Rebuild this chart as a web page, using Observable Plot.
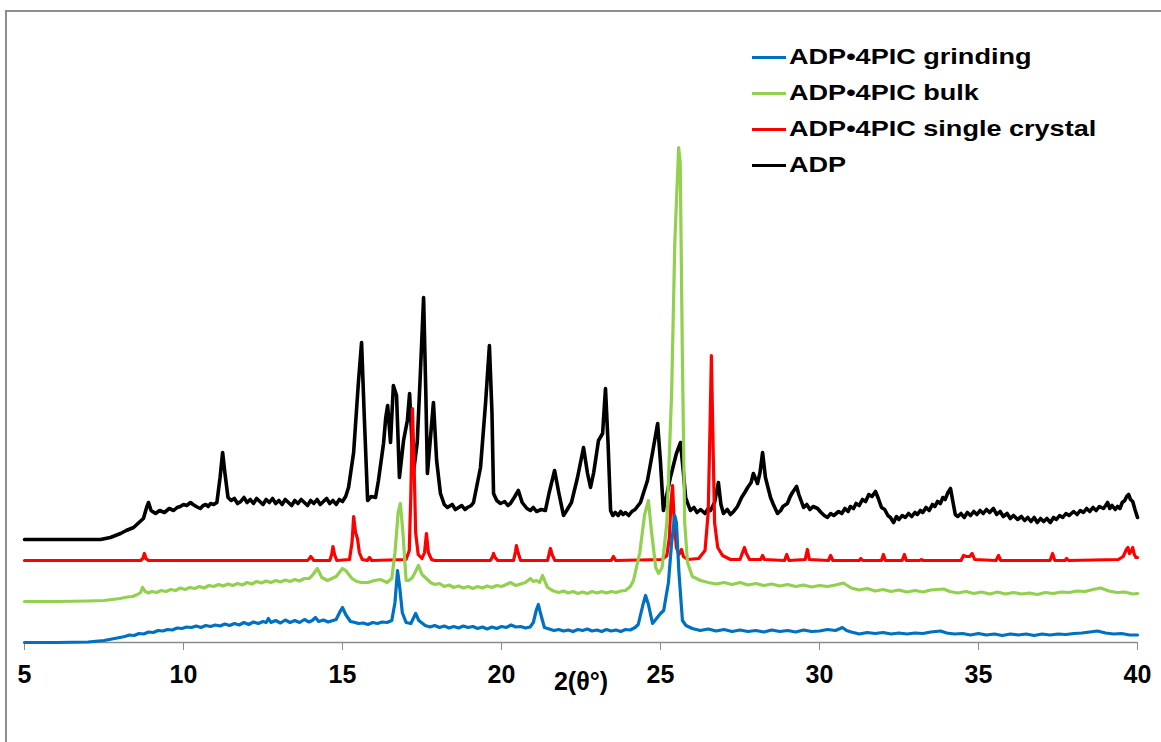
<!DOCTYPE html>
<html><head><meta charset="utf-8">
<script src="https://cdn.jsdelivr.net/npm/d3@7"></script>
<script src="https://cdn.jsdelivr.net/npm/@observablehq/plot@0.6"></script>
<style>
body{margin:0;background:#fff;overflow:hidden;font-family:"Liberation Sans",Arial,sans-serif;}
#wrap{position:relative;width:1161px;height:742px;overflow:hidden;background:#fff;}
#frame{position:absolute;left:5px;top:10px;width:2000px;height:2000px;border-top:2px solid #8e8e8e;border-left:2px solid #8e8e8e;}
#chart{position:absolute;left:0;top:0;}
#legend{position:absolute;left:752px;top:39px;}
.row{height:36px;display:flex;align-items:center;}
.sw{width:34px;height:3px;margin-right:3px;flex:none;}
.lab{font-weight:bold;font-size:22px;color:#000;transform:scaleX(1.23);transform-origin:left center;white-space:nowrap;}
</style></head>
<body>
<div id="wrap"><div id="frame"></div><div id="chart"></div><div id="legend"></div></div>
<script>
// Series names (legend order)
const seriesNames = ["ADP•4PIC grinding", "ADP•4PIC bulk", "ADP•4PIC single crystal", "ADP"];
const xTicks = [5, 10, 15, 20, 25, 30, 35, 40];
const xLabel = "2(θ°)";

// [2θ, intensity (a.u., stacked offsets as plotted)]
const grinding = [[5,0],[6,0],[7,0.5],[7.5,2],[8.0,5],[8.15,6],[8.3,7.5],[8.45,7],[8.6,9],[8.75,8.5],[8.9,10.5],[9.05,10],[9.2,12],[9.35,11.5],[9.5,13],[9.65,12.5],[9.8,14.5],[9.95,14],[10.1,15.5],[10.25,15],[10.4,16.5],[10.55,15],[10.7,17],[10.85,16],[11.0,17.5],[11.15,16.5],[11.3,18.5],[11.45,17],[11.6,19],[11.75,17.5],[11.9,20],[12.05,18],[12.2,20.5],[12.35,19],[12.5,21],[12.6,20],[12.67,24],[12.75,20],[12.9,22],[13.05,19.5],[13.2,22.5],[13.35,20],[13.5,22],[13.65,20],[13.8,23],[13.95,20.5],[14.05,22],[14.15,25],[14.25,21],[14.4,22.5],[14.55,20.5],[14.7,22],[14.8,23],[14.94,32],[15.0,35],[15.1,28],[15.25,21],[15.4,20],[15.5,19],[15.65,19.5],[15.8,18],[15.95,20],[16.1,19],[16.25,20.5],[16.4,20],[16.55,22],[16.65,40],[16.73,72],[16.8,55],[16.88,30],[17.0,20],[17.15,19],[17.3,29],[17.4,22],[17.6,17],[17.75,15.5],[17.9,17],[18.05,15],[18.2,16.5],[18.35,14.5],[18.5,16],[18.65,14.5],[18.8,16.5],[18.95,15],[19.1,16],[19.25,14],[19.4,15.5],[19.55,13.5],[19.7,15.5],[19.85,14],[20.0,16],[20.15,15],[20.3,17.5],[20.45,15.5],[20.6,16],[20.75,14.5],[20.9,15.5],[21.0,20],[21.1,33],[21.16,38],[21.22,30],[21.35,15],[21.5,13.5],[21.65,12],[21.8,13],[21.95,11.5],[22.1,12.5],[22.25,11],[22.4,13],[22.55,12],[22.7,13.5],[22.85,11.5],[23.0,12.5],[23.15,11],[23.3,13],[23.45,11.5],[23.6,12.5],[23.75,11],[23.9,13],[24.05,12.5],[24.2,15],[24.3,18],[24.45,38],[24.53,47],[24.62,38],[24.75,19],[24.9,25],[25.0,29],[25.1,32],[25.25,60],[25.35,100],[25.45,127],[25.5,120],[25.58,70],[25.69,22],[25.8,17],[26.0,14],[26.25,12],[26.5,13.5],[26.75,11.5],[27.0,13],[27.25,11],[27.5,12.5],[27.75,11],[28.0,12],[28.25,10.5],[28.5,12.5],[28.75,11],[29.0,12],[29.25,10.5],[29.5,12.5],[29.75,11],[30.0,11.5],[30.25,13],[30.5,12],[30.65,14],[30.72,15],[30.85,12],[31.0,10.5],[31.25,8.5],[31.5,10],[31.75,9],[32.0,10],[32.25,8.5],[32.5,9.5],[32.75,8.5],[33.0,9.5],[33.25,9],[33.5,10.5],[33.81,11.5],[34.0,9.5],[34.25,8.5],[34.5,9],[34.75,7.5],[35.0,9],[35.25,7.5],[35.5,8.5],[35.75,7],[36.0,8.5],[36.25,7.5],[36.5,8.5],[36.75,7],[37.0,8.5],[37.25,7.5],[37.5,8.5],[37.75,8],[38.0,9],[38.25,9.5],[38.5,10.5],[38.74,11.5],[39.0,9.5],[39.25,8.5],[39.5,9],[39.75,7.5],[40,7.5]];

const bulk = [[5,41],[6,41],[7,41.5],[7.5,42],[8.0,44],[8.24,45.5],[8.4,46],[8.55,48],[8.65,50],[8.71,55],[8.8,51],[8.9,49.5],[9.0,51],[9.15,50],[9.3,52],[9.45,51],[9.6,53],[9.75,52],[9.9,54.5],[10.05,53],[10.2,55],[10.35,54],[10.5,56],[10.65,54.5],[10.8,57],[10.95,56],[11.1,58],[11.25,56.5],[11.4,58.5],[11.55,57],[11.7,59],[11.85,57.5],[12.0,60],[12.15,58.5],[12.3,61],[12.45,59.5],[12.6,61.5],[12.75,60],[12.9,62],[13.05,60.5],[13.2,62.5],[13.35,61],[13.5,63],[13.65,61.5],[13.8,64],[13.95,64],[14.05,67],[14.21,74],[14.35,65],[14.53,62],[14.8,66],[15.0,74],[15.1,72],[15.3,64],[15.45,61],[15.6,60],[15.8,60],[16.0,62],[16.19,63],[16.4,60],[16.55,64],[16.65,90],[16.75,130],[16.82,139],[16.9,110],[17.0,62],[17.08,62],[17.2,65],[17.39,77],[17.5,68],[17.77,60],[17.9,58],[18.05,59],[18.2,56],[18.35,57.5],[18.5,55],[18.65,56.5],[18.8,54.5],[18.95,56],[19.1,54],[19.25,56],[19.4,54.5],[19.55,56.5],[19.7,55],[19.85,57],[20.0,56],[20.15,58],[20.28,60],[20.45,57],[20.6,58.5],[20.75,60],[20.91,64],[21.0,61],[21.1,62],[21.2,60],[21.29,67],[21.38,60],[21.45,55],[21.55,53],[21.64,51.5],[21.8,50],[21.95,51.5],[22.1,49.5],[22.25,51],[22.4,49],[22.55,50.5],[22.7,49],[22.85,51],[23.0,49.5],[23.15,51],[23.3,49.5],[23.45,51],[23.6,50],[23.75,51.5],[23.9,52],[24.05,56],[24.15,62],[24.35,90],[24.5,128],[24.62,142],[24.72,110],[24.85,75],[24.94,69],[25.05,75],[25.2,120],[25.35,250],[25.45,400],[25.57,495],[25.62,480],[25.69,280],[25.76,120],[25.85,80],[26.0,66],[26.26,62],[26.5,60],[26.75,58.5],[27.0,60],[27.25,58],[27.5,60],[27.75,57.5],[28.0,59],[28.25,57],[28.5,58.5],[28.75,56.5],[29.0,58],[29.25,56],[29.5,57.5],[29.75,55.5],[30.0,57],[30.25,56],[30.5,57.5],[30.75,59.5],[31.0,54.5],[31.25,52.5],[31.5,54],[31.75,51.5],[32.0,53],[32.25,51],[32.5,52.5],[32.75,50.5],[33.0,52],[33.25,50.5],[33.5,52.5],[33.9,53.5],[34.1,51],[34.35,49.5],[34.6,51],[34.85,49],[35.1,50.5],[35.35,48.5],[35.6,50.5],[35.85,48.5],[36.1,50],[36.35,48.5],[36.6,49.5],[36.85,48],[37.1,50],[37.35,49],[37.6,50.5],[37.85,50],[38.1,51.5],[38.35,51],[38.6,53],[38.84,54.5],[39.1,51.5],[39.35,50],[39.6,50.5],[39.85,48.5],[40,49]];

const singleCrystal = [[5,82],[8.65,82],[8.72,84],[8.77,89],[8.82,84],[8.9,82],[13.9,82],[13.96,84],[14.0,86],[14.05,84],[14.1,82],[14.6,82],[14.66,88],[14.7,96],[14.75,88],[14.82,82],[15.22,83],[15.3,100],[15.35,126],[15.41,110],[15.47,104],[15.53,90],[15.62,83],[15.78,82],[15.85,85],[15.92,82],[17.0,83],[17.1,92],[17.15,150],[17.2,234],[17.25,180],[17.3,110],[17.38,88],[17.5,84],[17.58,90],[17.64,109],[17.7,90],[17.8,83],[17.9,82],[19.65,82],[19.72,86],[19.75,89],[19.8,85],[19.88,82],[20.38,82],[20.44,91],[20.47,97],[20.52,90],[20.6,82],[21.45,82],[21.5,89],[21.54,94],[21.59,88],[21.68,82],[23.45,82],[23.52,86],[23.59,82],[25.05,83],[25.2,87],[25.28,105],[25.33,140],[25.38,157],[25.43,120],[25.5,95],[25.58,88],[25.66,93],[25.72,86],[25.85,83],[26.2,84],[26.4,92],[26.5,130],[26.56,220],[26.6,287],[26.64,220],[26.7,120],[26.8,95],[26.95,87],[27.2,83],[27.5,83],[27.58,90],[27.64,95],[27.7,89],[27.8,83],[28.15,83],[28.21,87],[28.27,83],[28.9,82],[28.97,88],[29.04,82],[29.55,83],[29.62,93],[29.68,83],[30.28,82],[30.35,87],[30.42,82],[31.25,82],[31.3,84],[31.36,82],[31.95,82],[32.01,88],[32.07,82],[32.6,82],[32.67,88],[32.73,82],[33.15,82],[33.2,83],[33.26,82],[34.45,82],[34.53,87],[34.62,86],[34.72,86],[34.8,89],[34.88,83],[35.55,82],[35.63,87],[35.7,82],[37.25,82],[37.33,89],[37.4,82],[37.72,82],[37.77,84],[37.83,82],[39.4,83],[39.55,86],[39.65,93],[39.7,95],[39.75,89],[39.8,91],[39.85,95],[39.9,88],[39.95,85],[40,85]];

const adp = [[5,103],[6,103],[7,103],[7.39,103],[7.7,105],[8.02,109],[8.2,112],[8.43,115],[8.6,120],[8.74,124],[8.84,135],[8.9,140],[8.98,132],[9.12,129],[9.25,132],[9.4,130],[9.55,134],[9.69,132],[9.8,135],[9.9,136],[10.0,138],[10.1,137],[10.22,140],[10.3,138],[10.4,136],[10.53,134],[10.62,137],[10.7,138],[10.78,136],[10.85,139],[10.95,138],[11.05,140],[11.15,165],[11.23,190],[11.3,170],[11.4,145],[11.5,142],[11.6,144],[11.7,139],[11.8,141],[11.9,145],[12.0,140],[12.1,143],[12.2,139],[12.3,144],[12.4,141],[12.5,138],[12.6,143],[12.7,140],[12.8,144],[12.9,139],[13.0,142],[13.1,138],[13.2,143],[13.3,140],[13.4,137],[13.5,142],[13.6,139],[13.7,143],[13.8,140],[13.9,137],[14.0,142],[14.1,139],[14.2,143],[14.3,138],[14.4,141],[14.5,144],[14.6,139],[14.7,142],[14.8,138],[14.9,143],[15.0,141],[15.1,146],[15.19,155],[15.35,190],[15.5,260],[15.6,300],[15.68,230],[15.79,142],[15.9,146],[16.04,145],[16.13,162],[16.29,199],[16.36,225],[16.42,237],[16.51,200],[16.6,257],[16.7,247],[16.79,165],[16.92,202],[17.04,222],[17.11,249],[17.23,170],[17.35,200],[17.45,270],[17.55,345],[17.62,250],[17.67,169],[17.78,210],[17.86,240],[17.96,182],[18.08,149],[18.2,138],[18.3,135],[18.45,138],[18.55,133],[18.6,134],[18.75,137],[18.85,133],[18.93,135],[19.05,137],[19.12,140],[19.34,175],[19.5,240],[19.62,297],[19.7,230],[19.75,149],[19.85,142],[19.97,139],[20.1,141],[20.2,137],[20.28,139],[20.4,145],[20.53,152],[20.65,140],[20.8,134],[20.91,132],[21.0,135],[21.1,131],[21.25,133],[21.38,132],[21.5,150],[21.67,172],[21.8,150],[21.95,127],[22.05,132],[22.2,140],[22.39,165],[22.58,195],[22.7,170],[22.8,155],[22.9,170],[23.05,202],[23.18,209],[23.27,254],[23.35,200],[23.43,132],[23.5,127],[23.58,130],[23.67,127],[23.75,131],[23.82,128],[23.9,130],[24.0,127],[24.1,131],[24.2,133],[24.37,140],[24.59,162],[24.75,190],[24.91,219],[25.0,180],[25.09,132],[25.2,148],[25.31,165],[25.5,189],[25.63,200],[25.72,170],[25.79,145],[25.94,132],[26.05,135],[26.15,130],[26.26,133],[26.4,129],[26.5,134],[26.57,132],[26.7,140],[26.82,160],[26.9,138],[26.98,129],[27.1,133],[27.2,128],[27.3,131],[27.42,136],[27.55,145],[27.65,150],[27.74,155],[27.85,160],[27.92,169],[28.0,163],[28.05,159],[28.13,170],[28.21,190],[28.3,165],[28.38,155],[28.46,145],[28.55,138],[28.68,129],[28.78,132],[28.85,136],[28.99,139],[29.08,146],[29.15,150],[29.28,156],[29.35,148],[29.5,135],[29.6,138],[29.7,133],[29.8,136],[29.94,134],[30.05,130],[30.15,127],[30.25,125],[30.35,129],[30.45,127],[30.6,131],[30.7,129],[30.8,134],[30.9,131],[30.97,136],[31.07,134],[31.15,139],[31.25,137],[31.35,143],[31.45,141],[31.55,148],[31.65,146],[31.76,151],[31.85,144],[31.95,135],[32.05,133],[32.15,127],[32.23,125],[32.33,120],[32.42,126],[32.5,123],[32.6,127],[32.7,125],[32.8,129],[32.9,126],[33.0,130],[33.08,128],[33.17,132],[33.25,130],[33.35,135],[33.45,132],[33.55,138],[33.63,136],[33.71,141],[33.8,139],[33.88,145],[33.95,143],[34.04,150],[34.12,154],[34.2,140],[34.27,128],[34.35,126],[34.45,129],[34.55,125],[34.65,130],[34.75,127],[34.85,131],[34.95,128],[35.05,132],[35.15,129],[35.25,133],[35.35,130],[35.47,134],[35.57,128],[35.68,131],[35.78,126],[35.9,129],[36.0,124],[36.1,127],[36.23,123],[36.35,126],[36.45,122],[36.55,125],[36.65,121],[36.75,125],[36.85,120],[36.95,124],[37.05,121],[37.15,124],[37.26,120],[37.36,125],[37.45,123],[37.55,127],[37.65,125],[37.75,129],[37.85,127],[37.99,131],[38.1,128],[38.2,132],[38.3,130],[38.4,134],[38.5,131],[38.6,135],[38.7,132],[38.8,136],[38.93,134],[39.0,137],[39.06,140],[39.13,134],[39.2,137],[39.3,133],[39.37,136],[39.45,134],[39.52,140],[39.6,142],[39.66,146],[39.72,148],[39.78,143],[39.85,141],[39.92,133],[40,125]];

const seriesData = [grinding, bulk, singleCrystal, adp];
const colors = ["#0070C0", "#92D050", "#FF0000", "#000000"];
const widths = [3.2, 3.2, 3.2, 3.6];

const rows = [];
seriesData.forEach((arr, k) => arr.forEach(([x, y]) => rows.push({series: seriesNames[k], x, y})));

// draw order: ADP first, grinding last (on top)
const drawOrder = [3, 2, 1, 0];

const plot = Plot.plot({
  width: 1161, height: 742,
  marginLeft: 24, marginRight: 24, marginTop: 0, marginBottom: 100,
  x: {domain: [5, 40]},
  y: {domain: [0, 642], axis: null},
  style: {fontFamily: "Liberation Sans, Arial, sans-serif", background: "transparent", color: "#000"},
  marks: [
    Plot.ruleY([0], {stroke: "#8c8c8c", strokeWidth: 1.5}),
    Plot.axisX({ticks: xTicks, tickSize: 8, tickPadding: 15, stroke: "#8c8c8c", fill: "#000",
      fontSize: 25, fontWeight: "bold", label: xLabel, labelAnchor: "center", labelArrow: "none", labelOffset: 47,
      style: {letterSpacing: "1px"}}),
    ...drawOrder.map(k => Plot.line(rows.filter(d => d.series === seriesNames[k]),
      {x: "x", y: "y", stroke: colors[k], strokeWidth: widths[k], strokeLinejoin: "round", curve: "linear"}))
  ]
});
document.getElementById("chart").appendChild(plot);

const legend = document.getElementById("legend");
seriesNames.forEach((name, k) => {
  const row = document.createElement("div");
  row.className = "row";
  const sw = document.createElement("div");
  sw.className = "sw"; sw.style.background = colors[k];
  const lab = document.createElement("span");
  lab.className = "lab"; lab.textContent = name;
  row.appendChild(sw); row.appendChild(lab);
  legend.appendChild(row);
});
</script>
</body></html>
